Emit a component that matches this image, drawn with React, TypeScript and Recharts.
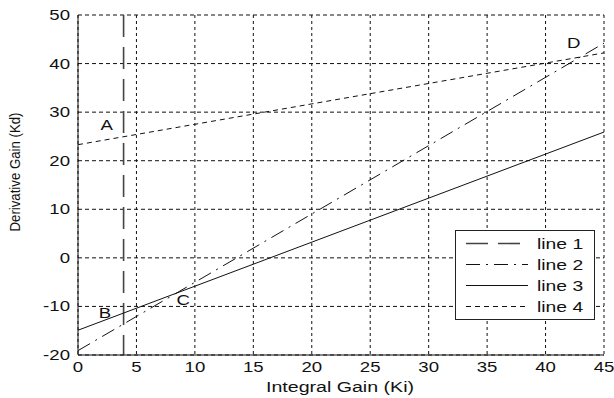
import {
  CartesianGrid,
  ComposedChart,
  Line,
  Scatter,
  XAxis,
  YAxis,
} from 'recharts'

// x ticks / y ticks
const xTicks = [0, 5, 10, 15, 20, 25, 30, 35, 40, 45]
const yTicks = [-20, -10, 0, 10, 20, 30, 40, 50]

// series
const line1 = [
  { x: 3.9, y: 50 },
  { x: 3.9, y: -20 },
]
const line2 = [
  { x: 0, y: -19.1 },
  { x: 45, y: 44.2 },
]
const line3 = [
  { x: 0, y: -14.9 },
  { x: 45, y: 25.9 },
]
const line4 = [
  { x: 0, y: 23.3 },
  { x: 45, y: 42.2 },
]

const markers = [
  { x: 2.45, y: 27.4, name: 'A' },
  { x: 2.3, y: -11.3, name: 'B' },
  { x: 9.0, y: -8.7, name: 'C' },
  { x: 42.4, y: 44.2, name: 'D' },
]

const styles: Record<string, { dash?: string; color: string; width: number }> = {
  'line 1': { dash: '22 10', color: '#444', width: 1.6 },
  'line 2': { dash: '14 6 2 6', color: '#111', width: 1 },
  'line 3': { color: '#111', width: 1 },
  'line 4': { dash: '5 4', color: '#111', width: 1 },
}
const names = ['line 1', 'line 2', 'line 3', 'line 4']

const FONT = 'Liberation Sans, Arial, sans-serif'
const SX = 1.33

const XTick = ({ x, y, payload }: any) => (
  <g transform={`translate(${x},${y + 4}) scale(${SX},1)`}>
    <text x={0} y={0} dy={5} textAnchor="middle" fontSize={14} fontFamily={FONT} fill="#111">
      {payload.value}
    </text>
  </g>
)

const YTick = ({ x, y, payload }: any) => (
  <g transform={`translate(${x},${y}) scale(${SX},1)`}>
    <text x={0} y={0} dy={5} textAnchor="end" fontSize={14} fontFamily={FONT} fill="#111">
      {payload.value}
    </text>
  </g>
)

const Marker = ({ cx, cy, payload }: any) => (
  <g transform={`translate(${cx},${cy}) scale(${SX},1)`}>
    <text x={0} y={0} dy={5} textAnchor="middle" fontSize={14} fontFamily={FONT} fill="#111">
      {payload.name}
    </text>
  </g>
)

const LegendBox = ({ left, top }: { left: number; top: number }) => (
  <g transform={`translate(${left},${top})`}>
    <rect x={0.5} y={0.5} width={139} height={89} fill="#fff" stroke="#222" />
    {names.map((n, i) => {
      const s = styles[n]
      const yy = 13.5 + i * 21
      return (
        <g key={n}>
          <line
            x1={11}
            x2={73}
            y1={yy}
            y2={yy}
            stroke={s.color}
            strokeWidth={s.width}
            strokeDasharray={s.dash}
          />
          <g transform={`translate(82,${yy + 5}) scale(1.38,1)`}>
            <text fontSize={14} fontFamily={FONT} fill="#111">
              {n}
            </text>
          </g>
        </g>
      )
    })}
  </g>
)

export default function App() {
  return (
    <div style={{ position: 'absolute', left: 0, top: 0, background: '#fff' }}>
      <ComposedChart width={614} height={398} margin={{ top: 15, right: 10, bottom: 13, left: 18 }}>
        <CartesianGrid horizontal={false} stroke="#111" strokeDasharray="3 3" />
        <CartesianGrid vertical={false} stroke="#111" strokeDasharray="4 3" />
        <XAxis
          type="number"
          dataKey="x"
          domain={[0, 45]}
          ticks={xTicks}
          interval={0}
          height={30}
          tickLine={false}
          stroke="#111"
          tick={<XTick />}
          allowDataOverflow
        />
        <YAxis
          type="number"
          dataKey="y"
          domain={[-20, 50]}
          ticks={yTicks}
          interval={0}
          width={60}
          tickLine={false}
          tickSize={8}
          tickMargin={0}
          stroke="#111"
          tick={<YTick />}
          allowDataOverflow
        />
        <Line data={line1} dataKey="y" name="line 1" stroke={styles['line 1'].color} strokeWidth={1.6} strokeDasharray={styles['line 1'].dash} dot={false} isAnimationActive={false} />
        <Line data={line2} dataKey="y" name="line 2" stroke="#111" strokeWidth={1} strokeDasharray={styles['line 2'].dash} dot={false} isAnimationActive={false} />
        <Line data={line3} dataKey="y" name="line 3" stroke="#111" strokeWidth={1} dot={false} isAnimationActive={false} />
        <Line data={line4} dataKey="y" name="line 4" stroke="#111" strokeWidth={1} strokeDasharray={styles['line 4'].dash} dot={false} isAnimationActive={false} />
        <Scatter data={markers} dataKey="y" shape={<Marker />} isAnimationActive={false} legendType="none" />
        <LegendBox left={455} top={230} />
        <g transform="translate(340,387) scale(1.4,1)">
          <text textAnchor="middle" fontSize={14} fontFamily={FONT} fill="#111" dy={5}>
            Integral Gain (Ki)
          </text>
        </g>
        <text
          transform="translate(15,172) rotate(-90)"
          textAnchor="middle"
          fontSize={15}
          fontFamily={FONT}
          fill="#111"
          dy={5}
          textLength={119}
          lengthAdjust="spacingAndGlyphs"
        >
          Derivative Gain (Kd)
        </text>
      </ComposedChart>
    </div>
  )
}
